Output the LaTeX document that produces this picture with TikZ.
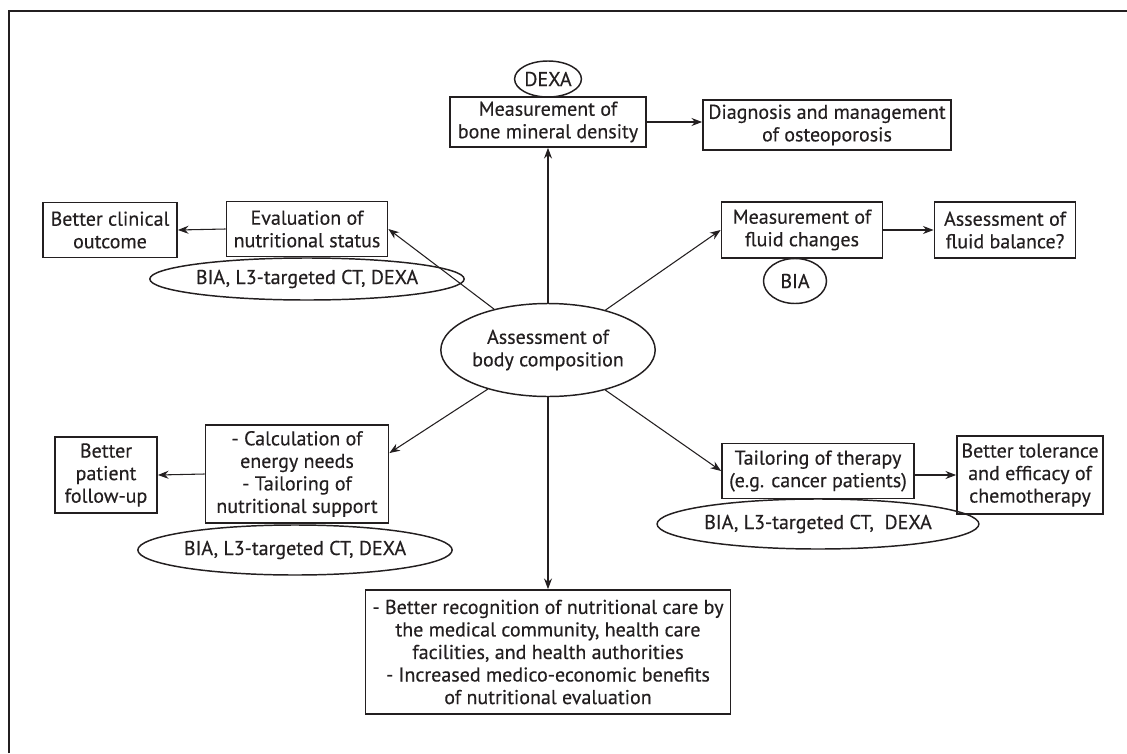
\documentclass[tikz,border=0pt]{standalone}
\usepackage{fontspec}
\setmainfont{PT Sans}[RawFeature={embolden=0.4}]
\usetikzlibrary{shapes.geometric,arrows.meta,calc}
\definecolor{ink}{HTML}{231F20}
\begin{document}
\begin{tikzpicture}[x=0.75pt,y=-0.75pt,
  every node/.style={font=\fontsize{15}{16.9}\selectfont, text=ink, align=center, inner sep=0pt},
  sz/.style 2 args={minimum width=#1*0.75pt, minimum height=#2*0.75pt},
  bx/.style={draw=ink, line width=1.3pt, rectangle},
  el/.style={draw=ink, line width=1.1pt, ellipse},
  conn/.style={draw=ink, line width=0.8pt, -{Stealth[length=8pt,width=6pt]}}]
\useasboundingbox (0,0) rectangle (1127,753);
\draw[ink, line width=1.3pt] (9,753) -- (9,11) -- (1127,11);

\node[bx,sz={196}{50}] (bone) at (548,122) {Measurement of\\bone mineral density};
\node[el,sz={62}{36}] (dexa) at (548,79) {DEXA};
\node[bx,sz={248}{50}] (diag) at (827,125) {Diagnosis and management\\of osteoporosis};

\node[bx,sz={161}{55}] (eval) at (307,229) {Evaluation of\\nutritional status};
\node[bx,sz={134}{55}] (clin) at (110,230) {Better clinical\\outcome};
\node[el,sz={254}{42}] (el1) at (307,279) {BIA, L3-targeted CT, DEXA};

\node[bx,sz={161}{56}] (fluid) at (802,230) {Measurement of\\fluid changes};
\node[bx,sz={141}{56}] (bal) at (1005,230) {Assessment of\\fluid balance?};
\node[el,sz={63}{45}] (bia) at (795,281) {BIA};

\node[el,sz={191}{93}] (center) at (548,350) {Assessment of\\body composition};

\node[bx,sz={183}{98}] (calc) at (297,474) {- Calculation of\\energy needs\\- Tailoring of\\nutritional support};
\node[bx,sz={102}{76}] (pat) at (106,475) {Better\\patient\\follow-up};
\node[el,sz={250}{50}] (el2) at (295,550) {BIA, L3-targeted CT, DEXA};

\node[bx,sz={192}{55}] (tail) at (818,471) {Tailoring of therapy\\(e.g. cancer patients)};
\node[bx,sz={146}{78}] (tol) at (1030,475) {Better tolerance\\and efficacy of\\chemotherapy};
\node[el,sz={253}{50}] (el3) at (818,524) {BIA, L3-targeted CT,~ DEXA};

\node[bx,sz={365}{124}] (bot) at (548,652) {- Better recognition of nutritional care by\\the medical community, health care\\facilities, and health authorities\\- Increased medico-economic benefits\\of nutritional evaluation};

\coordinate (calcin) at ($(calc.north east)!0.29!(calc.south east)$);

\draw[conn] (center) -- (bone);
\draw[conn] (center) -- (eval.east);
\draw[conn] (center) -- (fluid.west);
\draw[conn] (center) -- (tail.west);
\draw[conn] (center) -- (calcin);
\draw[conn] (center) -- (bot);
\draw[conn] (bone.east) -- (bone.east -| diag.west);
\draw[conn] (eval.west) -- (clin.east);
\draw[conn] (fluid.east) -- (bal.west);
\draw[conn] (tail.east |- tol.west) -- (tol.west);
\draw[conn] (calc.west) -- (pat.east);
\end{tikzpicture}
\end{document}
